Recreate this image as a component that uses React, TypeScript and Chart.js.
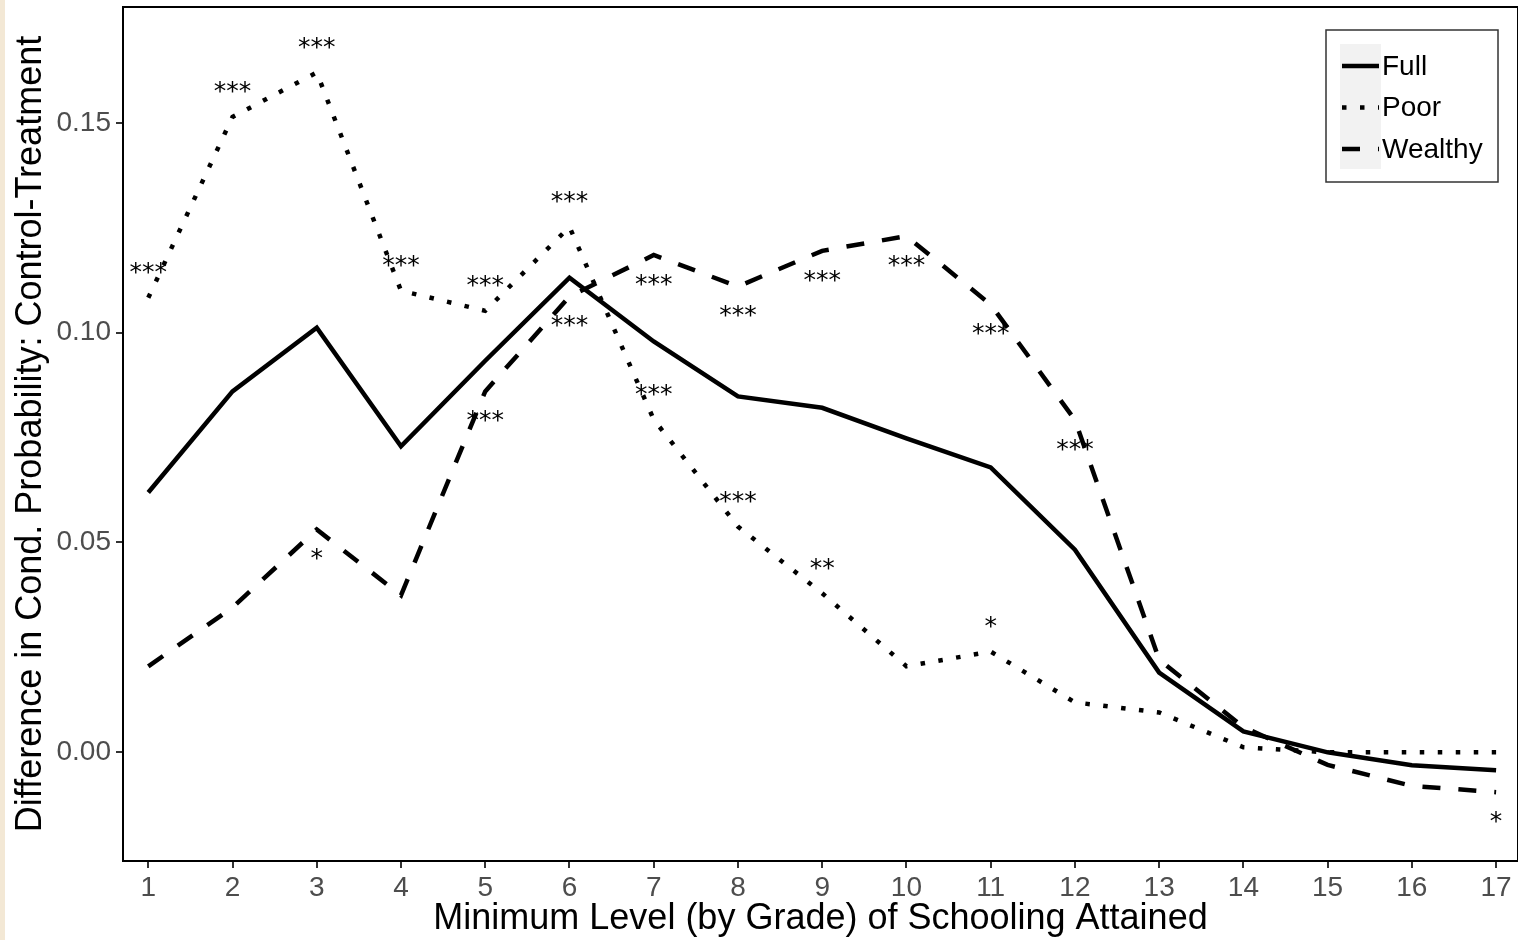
import React, { useEffect, useRef } from "react";
import { Chart, registerables } from "chart.js";

Chart.register(...registerables);

// ---- data ----
const grades = [1, 2, 3, 4, 5, 6, 7, 8, 9, 10, 11, 12, 13, 14, 15, 16, 17];
const fullDiff = [0.0619, 0.086, 0.1012, 0.0729, 0.0933, 0.1131, 0.0979, 0.0848, 0.0821, 0.0748, 0.0679, 0.0483, 0.019, 0.005, 0.0, -0.0031, -0.0043];
const poorDiff = [0.1083, 0.1514, 0.162, 0.110, 0.1052, 0.1252, 0.0793, 0.0538, 0.0379, 0.0205, 0.024, 0.0119, 0.0095, 0.0012, 0.0, 0.0, 0.0];
const wealthyDiff = [0.0205, 0.0345, 0.0531, 0.0374, 0.086, 0.1086, 0.1185, 0.111, 0.1195, 0.123, 0.1067, 0.0792, 0.0221, 0.006, -0.003, -0.008, -0.0095];
const poorSig = ["***", "***", "***", "***", "***", "***", "***", "***", "**", "", "*", "", "", "", "", "", ""];
const wealthySig = ["", "", "*", "", "***", "***", "***", "***", "***", "***", "***", "***", "", "", "", "", "*"];
const seriesNames = ["Full", "Poor", "Wealthy"];
const yTickValues = [0, 0.05, 0.1, 0.15];
const xTickValues = grades;
const xTitle = "Minimum Level (by Grade) of Schooling Attained";
const yTitle = "Difference in Cond. Probability: Control-Treatment";

const FONT = "'Liberation Sans', Arial, sans-serif";
const STAR_FONT = "'DejaVu Sans', sans-serif";
const POOR_NUDGE = 0.0075;
const WEALTHY_NUDGE = -0.0055;
const STAR_SIZE = 25;

const decor = {
  id: "decor",
  afterDatasetsDraw(chart: any) {
    const { ctx, chartArea, scales } = chart;
    const xs = scales.x;
    const ys = scales.y;
    ctx.save();
    // panel top / right border
    ctx.strokeStyle = "#000";
    ctx.lineWidth = 2;
    ctx.beginPath();
    ctx.moveTo(chartArea.left, chartArea.top);
    ctx.lineTo(chartArea.right, chartArea.top);
    ctx.lineTo(chartArea.right, chartArea.bottom);
    ctx.stroke();

    // significance stars
    ctx.fillStyle = "#000";
    ctx.font = `${STAR_SIZE}px ${STAR_FONT}`;
    ctx.textAlign = "center";
    ctx.textBaseline = "alphabetic";
    const drawSig = (vals: number[], sig: string[], nudge: number) => {
      grades.forEach((g, i) => {
        if (!sig[i]) return;
        const px = xs.getPixelForValue(g);
        const py = ys.getPixelForValue(vals[i] + nudge) + STAR_SIZE * 0.55;
        ctx.fillText(sig[i], px, py);
      });
    };
    drawSig(poorDiff, poorSig, POOR_NUDGE);
    drawSig(wealthyDiff, wealthySig, WEALTHY_NUDGE);

    // legend
    const bx = chartArea.right - 192;
    const by = chartArea.top + 23;
    const bw = 172;
    const bh = 152;
    ctx.fillStyle = "#fff";
    ctx.fillRect(bx, by, bw, bh);
    ctx.strokeStyle = "#333";
    ctx.lineWidth = 1.5;
    ctx.strokeRect(bx, by, bw, bh);
    ctx.fillStyle = "#f2f2f2";
    ctx.fillRect(bx + 14, by + 14, 41, 125);
    chart.data.datasets.forEach((ds: any, i: number) => {
      const ky = by + 36 + i * 41.5;
      ctx.save();
      ctx.strokeStyle = "#000";
      ctx.lineWidth = ds.borderWidth;
      ctx.lineCap = "butt";
      ctx.setLineDash(ds.borderDash || []);
      ctx.beginPath();
      ctx.moveTo(bx + 16, ky);
      ctx.lineTo(bx + 53, ky);
      ctx.stroke();
      ctx.restore();
      ctx.fillStyle = "#000";
      ctx.font = `28px ${FONT}`;
      ctx.textAlign = "left";
      ctx.textBaseline = "middle";
      ctx.fillText(seriesNames[i], bx + 56, ky + 1);
    });

    // axis titles
    ctx.fillStyle = "#000";
    ctx.font = `36px ${FONT}`;
    ctx.textAlign = "center";
    ctx.textBaseline = "middle";
    ctx.fillText(xTitle, (chartArea.left + chartArea.right) / 2, 919);
    ctx.translate(31, (chartArea.top + chartArea.bottom) / 2);
    ctx.rotate(-Math.PI / 2);
    ctx.fillText(yTitle, 0, 0);
    ctx.restore();
  },
};

export default function App() {
  const ref = useRef<HTMLCanvasElement>(null);
  useEffect(() => {
    document.body.style.margin = "0";
    const canvas = ref.current!;
    const mk = (vals: number[]) => grades.map((g, i) => ({ x: g, y: vals[i] }));
    const chart = new Chart(canvas, {
      type: "line",
      data: {
        datasets: [
          { label: seriesNames[0], data: mk(fullDiff), borderColor: "#000", borderWidth: 4.5, borderDash: [], pointRadius: 0, tension: 0, borderCapStyle: "butt", borderJoinStyle: "miter", fill: false },
          { label: seriesNames[1], data: mk(poorDiff), borderColor: "#000", borderWidth: 4.5, borderDash: [4.5, 13.5], pointRadius: 0, tension: 0, borderCapStyle: "butt", borderJoinStyle: "miter", fill: false },
          { label: seriesNames[2], data: mk(wealthyDiff), borderColor: "#000", borderWidth: 4.5, borderDash: [18, 18], pointRadius: 0, tension: 0, borderCapStyle: "butt", borderJoinStyle: "miter", fill: false },
        ] as any,
      },
      options: {
        responsive: false,
        animation: false,
        devicePixelRatio: 1,
        layout: { padding: { top: 7, right: 0, left: 0, bottom: 0 } },
        plugins: { legend: { display: false }, tooltip: { enabled: false } },
        scales: {
          x: {
            type: "linear",
            min: 0.7,
            max: 17.26,
            afterBuildTicks: (s: any) => { s.ticks = xTickValues.map((v) => ({ value: v })); },
            afterFit: (s: any) => { s.height = 79; s.paddingLeft = 0; s.paddingRight = 0; },
            grid: { drawOnChartArea: false, drawTicks: true, tickLength: 7, color: "#333", lineWidth: 2 },
            border: { display: true, color: "#000", width: 2 },
            ticks: { font: { family: FONT, size: 28 }, color: "#4d4d4d", padding: 3, maxRotation: 0, autoSkip: false, callback: (v: any) => String(v) },
          },
          y: {
            type: "linear",
            min: -0.0259,
            max: 0.1776,
            afterBuildTicks: (s: any) => { s.ticks = yTickValues.map((v) => ({ value: v })); },
            afterFit: (s: any) => { s.width = 123; s.paddingTop = 0; s.paddingBottom = 0; },
            grid: { drawOnChartArea: false, drawTicks: true, tickLength: 7, color: "#333", lineWidth: 2 },
            border: { display: true, color: "#000", width: 2 },
            ticks: { font: { family: FONT, size: 28 }, color: "#4d4d4d", padding: 5, autoSkip: false, callback: (v: any) => Number(v).toFixed(2) },
          },
        },
      } as any,
      plugins: [decor],
    });
    return () => chart.destroy();
  }, []);
  return (
    <div style={{ position: "relative", width: 1518, height: 940, background: "#fff", overflow: "hidden" }}>
      <canvas ref={ref} width={1518} height={940} style={{ display: "block" }} />
      <div style={{ position: "absolute", left: 0, top: 0, width: 5, height: 940, background: "#f3e8d5" }} />
    </div>
  );
}
